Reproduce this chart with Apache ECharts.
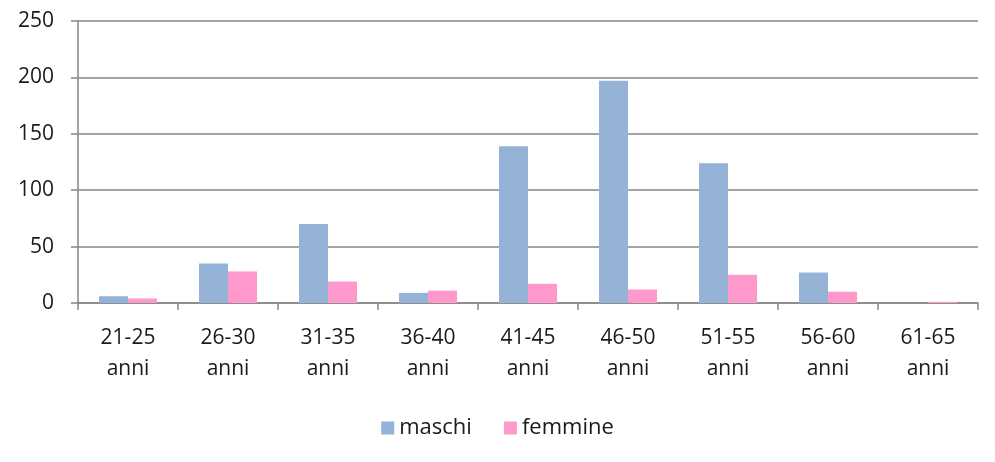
<!DOCTYPE html>
<html>
<head>
<meta charset="utf-8">
<script src="https://cdn.jsdelivr.net/npm/echarts@6/dist/echarts.min.js"></script>
<style>
  html, body { margin: 0; padding: 0; background: #fff; }
  #chart { width: 995px; height: 462px; }
</style>
</head>
<body>
<div id="chart"></div>
<script>
// fasce d'età
const categories = ['21-25\nanni', '26-30\nanni', '31-35\nanni', '36-40\nanni', '41-45\nanni',
  '46-50\nanni', '51-55\nanni', '56-60\nanni', '61-65\nanni']
const maschi = [6, 35, 70, 9, 139, 197, 124, 27, 0]
const femmine = [4, 28, 19, 11, 17, 12, 25, 10, 1]
const yTicks = [0, 50, 100, 150, 200, 250]

const font = '"Open Sans", sans-serif'
const gray = '#868686'

const myChart = echarts.init(document.getElementById('chart'))
myChart.setOption({
  animation: false,
  grid: { left: 78, right: 17, top: 21, bottom: 159, containLabel: false },
  legend: {
    bottom: 18,
    left: 'center',
    itemWidth: 13,
    itemHeight: 13,
    itemGap: 32,
    icon: 'rect',
    textStyle: { fontFamily: font, fontSize: 22, color: '#1a1a1a' },
    data: ['maschi', 'femmine']
  },
  xAxis: {
    type: 'category',
    data: categories,
    axisLine: { lineStyle: { color: gray, width: 1.5 } },
    axisTick: { show: true, length: 7, alignWithLabel: false, lineStyle: { color: gray, width: 1.5 } },
    axisLabel: { fontFamily: font, fontSize: 21, color: '#1a1a1a', lineHeight: 31, margin: 20 }
  },
  yAxis: {
    type: 'value',
    min: yTicks[0],
    max: yTicks[yTicks.length - 1],
    interval: 50,
    axisLine: { show: true, lineStyle: { color: gray, width: 1.5 } },
    axisTick: { show: true, length: 7, lineStyle: { color: gray, width: 1.5 } },
    splitLine: { lineStyle: { color: gray, width: 1.5 } },
    axisLabel: { fontFamily: font, fontSize: 21, color: '#1a1a1a', margin: 24 }
  },
  series: [
    {
      name: 'maschi',
      type: 'bar',
      data: maschi,
      barWidth: 29,
      barGap: '0%',
      itemStyle: { color: '#95B3D7' }
    },
    {
      name: 'femmine',
      type: 'bar',
      data: femmine,
      barWidth: 29,
      barGap: '0%',
      itemStyle: { color: '#FF99CC' }
    }
  ]
})
</script>
</body>
</html>
